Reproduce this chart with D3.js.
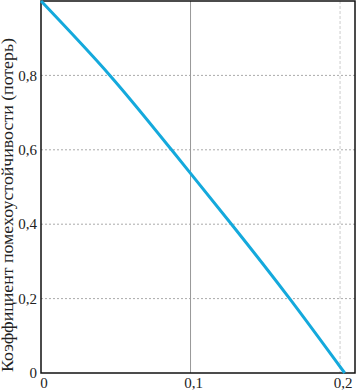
<!DOCTYPE html>
<html><head><meta charset="utf-8">
<script src="https://cdn.jsdelivr.net/npm/d3@7"></script>
</head><body style="margin:0"><svg id="c" width="357" height="391"></svg>
<script>
const xValues = [0, 0.0461, 0.0873, 0.1274, 0.1663, 0.2031];
const yValues = [1.0, 0.8, 0.6, 0.4, 0.2, 0.0];
const xTicks = [0, 0.1, 0.2];
const yTicks = [0, 0.2, 0.4, 0.6, 0.8];
const yTitle = "Коэффициент помехоустойчивости (потерь)";
const fmt = d => d === 0 ? "0" : String(d).replace(".", ",");

const svg = d3.select("#c").style("display", "block");
const FSTYLE = 'font-family: Tinos, "Times New Roman", "Liberation Serif";';
const L = 41, R = 355, T = 1, B = 373;
const x = d3.scaleLinear().domain([0, 0.21]).range([L, R]);
const y = d3.scaleLinear().domain([0, 1]).range([B, T]);

svg.append("g").selectAll("line").data(yTicks.filter(d => d > 0)).join("line")
  .attr("x1", L).attr("x2", R).attr("y1", d => y(d)).attr("y2", d => y(d))
  .attr("stroke", "#aaa").attr("stroke-width", 1).attr("stroke-dasharray", "2,2");
svg.append("line").attr("x1", x(0.1)).attr("x2", x(0.1)).attr("y1", T).attr("y2", B)
  .attr("stroke", "#999").attr("stroke-width", 1);
svg.append("line").attr("x1", x(0.2)).attr("x2", x(0.2)).attr("y1", T).attr("y2", B)
  .attr("stroke", "#ccc").attr("stroke-width", 1).attr("stroke-dasharray", "3,2");

svg.append("rect").attr("x", L).attr("y", T).attr("width", R - L).attr("height", B - T)
  .attr("fill", "none").attr("stroke", "#111").attr("stroke-width", 1.5);

const pts = xValues.map((v, i) => [v, yValues[i]]);
svg.append("path").datum(pts)
  .attr("d", d3.line().x(d => x(d[0])).y(d => y(d[1])).curve(d3.curveNatural))
  .attr("fill", "none").attr("stroke", "#14a9dc").attr("stroke-width", 3);

svg.append("g").selectAll("text").data(yTicks).join("text")
  .attr("style", FSTYLE + " font-size:15px")
  .attr("x", L - 4).attr("y", d => y(d)).attr("dy", "0.35em")
  .attr("text-anchor", "end").attr("fill", "#222").text(fmt);
svg.append("g").selectAll("text").data(xTicks).join("text")
  .attr("style", FSTYLE + " font-size:15px")
  .attr("x", d => x(d) + 3).attr("y", 388)
  .attr("text-anchor", "middle").attr("fill", "#222").text(fmt);

svg.append("text").attr("transform", `translate(13,${(372 + 38) / 2}) rotate(-90)`)
  .attr("style", FSTYLE + " font-size:16px")
  .attr("text-anchor", "middle").attr("fill", "#222")
  .attr("textLength", 334).attr("lengthAdjust", "spacingAndGlyphs").text(yTitle);
</script></body></html>
